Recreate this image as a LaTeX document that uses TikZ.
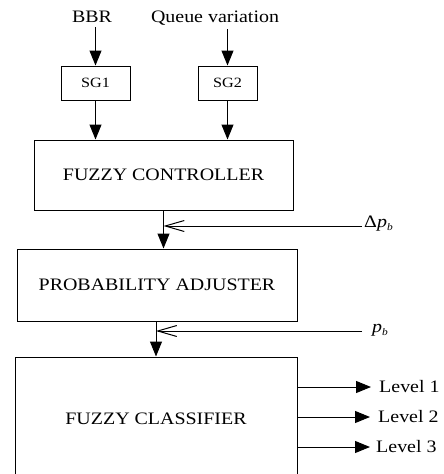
\documentclass[tikz,border=0pt]{standalone}
\usepackage{fontspec}
\setmainfont{Liberation Serif}[FakeStretch=1.14]
\usetikzlibrary{arrows.meta,positioning,calc}

\begin{document}
\begin{tikzpicture}[x=1pt, y=1pt,
    block/.style={rectangle, draw=black, line width=1pt, font=\fontsize{17.5}{20}\selectfont},
    sgbox/.style={rectangle, draw=black, line width=1pt, minimum height=34pt, font=\fontsize{14.2}{16}\selectfont},
    txt/.style={inner sep=0pt, font=\fontsize{17.5}{20}\selectfont},
    arrow/.style={-{Triangle[length=15pt, width=12pt]}, line width=1pt},
    feed/.style={-{Straight Barb[length=19pt, width=11pt]}, line width=1pt}
]
\useasboundingbox (0,0) rectangle (444,-474);

\node[txt] (bbr) at (92,-17) {BBR};
\node[txt] (queue) at (215,-18) {Queue variation};
\node[sgbox, minimum width=69pt] (sg1) at (95.5,-83) {SG1};
\node[sgbox, minimum width=59pt] (sg2) at (227.5,-83) {SG2};
\node[block, minimum width=259pt, minimum height=70pt] (fc) at (163.5,-175) {FUZZY CONTROLLER};
\node[block, minimum width=280pt, minimum height=72pt] (pa) at (157,-285) {PROBABILITY ADJUSTER};
\node[block, minimum width=282pt, minimum height=124pt] (cl) at (156,-419) {FUZZY CLASSIFIER};

% feedback inputs
\node[txt, anchor=west] (dpb) at (364,-224) {Δ\textit{p}\raisebox{-3pt}{\fontsize{10}{10}\selectfont\textit{b}}};
\node[txt, anchor=west] (pb) at (372,-330) {\textit{p}\raisebox{-3pt}{\fontsize{10}{10}\selectfont\textit{b}}};
\coordinate (dpbin) at (362,-226);
\coordinate (pbin) at (362,-331);

% outputs
\node[txt, anchor=west] (lv1) at (379,-387) {Level 1};
\node[txt, anchor=west] (lv2) at (378,-417) {Level 2};
\node[txt, anchor=west] (lv3) at (376,-447) {Level 3};

\draw[arrow] (sg1.north |- bbr.south) ++(0,-4) -- (sg1.north);
\draw[arrow] (sg2.north |- queue.south) ++(0,-4) -- (sg2.north);
\draw[arrow] (sg1.south) -- (sg1.south |- fc.north);
\draw[arrow] (sg2.south) -- (sg2.south |- fc.north);
\draw[arrow] (fc.south) -- (fc.south |- pa.north);
\draw[arrow] (pa.south -| cl.north) -- (cl.north);
\draw[feed] (dpbin) -- (dpbin -| fc.south);
\draw[feed] (pbin) -- (pbin -| cl.north);
\draw[arrow] (cl.east |- lv1) -- ($(lv1.west)+(-8,0)$);
\draw[arrow] (cl.east |- lv2) -- ($(lv2.west)+(-8,0)$);
\draw[arrow] (cl.east |- lv3) -- ($(lv3.west)+(-6,0)$);

\end{tikzpicture}
\end{document}
